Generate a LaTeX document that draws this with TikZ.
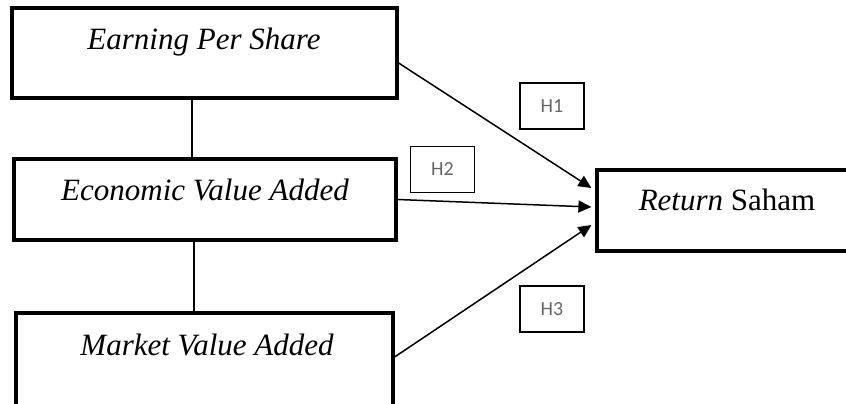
\documentclass[tikz,border=0pt]{standalone}
\usepackage{fontspec}
\setmainfont{Liberation Serif}
\newfontfamily\hfont{Carlito}
\usetikzlibrary{arrows.meta}
\tikzset{
  bigbox/.style={draw, line width=3.2pt, rectangle, inner sep=0pt},
  hbox/.style={draw, line width=1.6pt, rectangle, inner sep=0pt, minimum width=64pt, minimum height=46pt,
    font=\hfont\fontsize{20}{20}\selectfont, text=black!60},
  boxtext/.style={font=\fontsize{31}{31}\selectfont\itshape, inner sep=0pt},
  conn/.style={line width=1.5pt},
  arr/.style={line width=1.5pt, -{Triangle[length=13pt,width=12pt]}}
}
\begin{document}
\begin{tikzpicture}[x=1pt,y=-1pt]
\clip (0,0) rectangle (846,404);
\fill[white] (0,0) rectangle (846,404);
% main boxes
\node[bigbox, minimum width=385pt, minimum height=90pt] (eps) at (204.5,53) {};
\node[bigbox, minimum width=382pt, minimum height=81pt] (eva) at (205,199.5) {};
\node[bigbox, minimum width=377pt, minimum height=97pt] (mva) at (204.5,361.5) {};
\node[bigbox, minimum width=266pt, minimum height=81pt] (ret) at (730,210.5) {};
% texts
\node[boxtext] (epst) at (204,42) {Earning Per Share};
\node[boxtext] (evat) at (205,190) {Economic Value Added};
\node[boxtext] (mvat) at (207,345) {Market Value Added};
\node[boxtext, font=\fontsize{31}{31}\selectfont] (rett) at (727,200) {\textit{Return} Saham};
% hypothesis boxes
\node[hbox] (h1) at (552,106) {H1};
\node[hbox] (h2) at (442.5,169.5) {H2};
\node[hbox] (h3) at (552,309) {H3};
% connectors
\draw[conn] ([xshift=-12.5pt]eps.south) -- ([xshift=-13pt]eva.north);
\draw[conn] ([xshift=-11pt]eva.south) -- ([xshift=-10.5pt]mva.north);
\draw[arr] ([yshift=-10pt]eps.east) -- ([xshift=-4pt,yshift=22.5pt]ret.west);
\draw[arr] (eva.east) -- ([xshift=-4pt,yshift=3.5pt]ret.west);
\draw[arr] ([yshift=4.5pt]mva.east) -- ([xshift=-4pt,yshift=-14.5pt]ret.west);
\end{tikzpicture}
\end{document}
